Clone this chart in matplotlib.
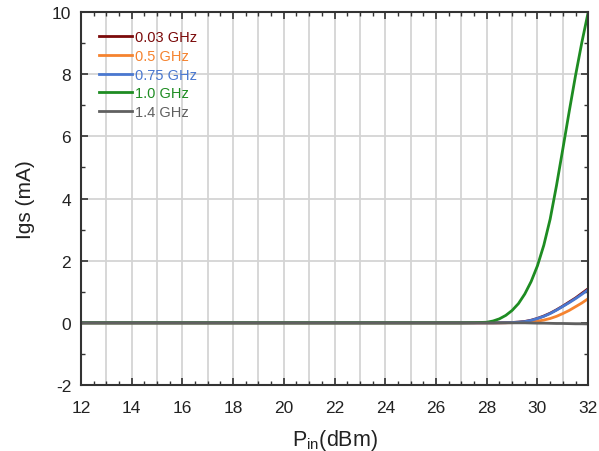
import matplotlib
matplotlib.use("Agg")
import matplotlib.pyplot as plt
from matplotlib.ticker import MultipleLocator

plt.rcParams['font.family'] = ['Liberation Sans', 'DejaVu Sans']
plt.rcParams['mathtext.fontset'] = 'custom'
plt.rcParams['mathtext.rm'] = 'Liberation Sans'
plt.rcParams['mathtext.it'] = 'Liberation Sans'
plt.rcParams['axes.unicode_minus'] = False

pin = [12, 14, 16, 18, 20, 22, 24, 26, 27, 27.5, 28, 28.25, 28.5, 28.75, 29, 29.25, 29.5,
       29.75, 30, 30.25, 30.5, 30.75, 31, 31.25, 31.5, 31.75, 32]

igs_003 = [0, 0, 0, 0, 0, 0, 0, 0, 0, 0, 0, 0, 0.003, 0.006, 0.012, 0.025, 0.045,
           0.085, 0.145, 0.22, 0.31, 0.42, 0.54, 0.67, 0.80, 0.95, 1.10]
igs_05 = [0, 0, 0, 0, 0, 0, 0, 0, 0, 0, 0, 0, 0, 0.003, 0.006, 0.012, 0.02,
          0.035, 0.055, 0.09, 0.14, 0.21, 0.30, 0.40, 0.52, 0.64, 0.78]
igs_075 = [0, 0, 0, 0, 0, 0, 0, 0, 0, 0, 0, 0, 0.003, 0.006, 0.01, 0.022, 0.04,
           0.08, 0.14, 0.21, 0.30, 0.41, 0.53, 0.65, 0.78, 0.92, 1.07]
igs_10 = [0, 0, 0, 0, 0, 0, 0, 0, 0, 0.005, 0.02, 0.06, 0.13, 0.24, 0.40, 0.62, 0.93,
          1.33, 1.84, 2.5, 3.34, 4.42, 5.6, 6.8, 7.96, 9.03, 10.0]
igs_14 = [0, 0, 0, 0, 0, 0, 0, 0, 0, 0, 0, 0, 0, 0, 0, 0, 0,
          -0.005, -0.01, -0.01, -0.015, -0.02, -0.02, -0.025, -0.03, -0.03, -0.035]

labels = ['0.03 GHz', '0.5 GHz', '0.75 GHz', '1.0 GHz', '1.4 GHz']
colors = ['#7b0a0a', '#f5832f', '#4a78d0', '#1e8c22', '#606060']
series = [igs_003, igs_05, igs_075, igs_10, igs_14]

fig = plt.figure(figsize=(5.99, 4.52), dpi=100)
ax = fig.add_axes([0.135, 0.146, 0.847, 0.825])

for y, c, l in zip(series, colors, labels):
    ax.plot(pin, y, color=c, lw=2.0, label=l)

ax.set_xlim(12, 32)
ax.set_ylim(-2, 10)
ax.xaxis.set_major_locator(MultipleLocator(2))
ax.xaxis.set_minor_locator(MultipleLocator(0.5))
ax.yaxis.set_major_locator(MultipleLocator(2))
ax.yaxis.set_minor_locator(MultipleLocator(1))

for xv in range(12, 33):
    ax.axvline(xv, color='#d4d4d4', lw=1.3, zorder=0)
ax.grid(axis='y', which='major', color='#d4d4d4', lw=1.3, zorder=0)
ax.set_axisbelow(True)

ax.tick_params(which='both', direction='in', top=True, right=True, colors='#333333',
               labelcolor='#222222', labelsize=12.5)
ax.tick_params(which='major', length=5, width=1.2)
ax.tick_params(axis='x', which='major', pad=11)
ax.tick_params(axis='y', which='major', pad=7)
ax.tick_params(which='minor', length=3, width=1.0)
for s in ax.spines.values():
    s.set_color('#333333')
    s.set_linewidth(1.5)

ax.set_xlabel('P$_{\\mathrm{in}}$(dBm)', fontsize=15.5, color='#222222')
ax.set_ylabel('Igs (mA)', fontsize=15, color='#222222')
ax.xaxis.set_label_coords(0.5, -0.112)
ax.yaxis.set_label_coords(-0.09, 0.5)

leg = ax.legend(loc='upper left', frameon=False, fontsize=10.5, handlelength=2.25,
                handletextpad=0.2, labelspacing=0.32, borderaxespad=0.85,
                bbox_to_anchor=(0.0, 1.0))
for t, c in zip(leg.get_texts(), colors):
    t.set_color(c)

fig.savefig('out.png', dpi=100)
